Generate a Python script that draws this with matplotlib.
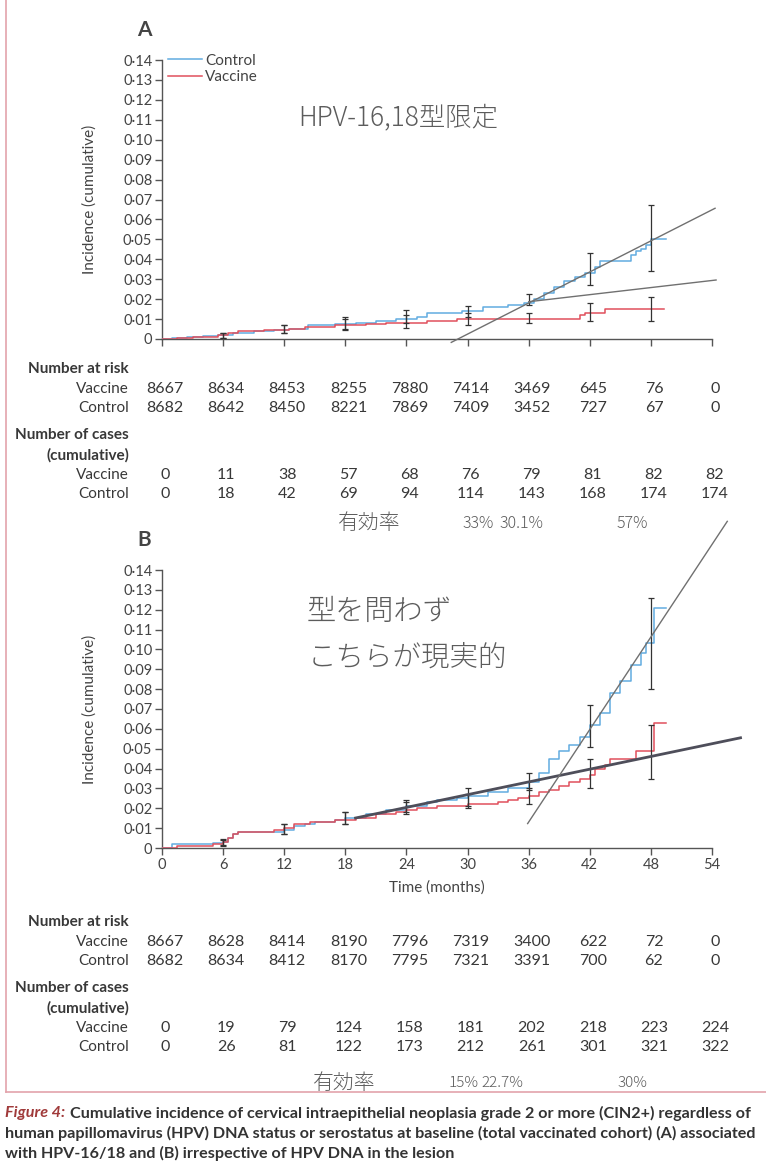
import matplotlib
matplotlib.use('Agg')
import matplotlib.pyplot as plt
import matplotlib.transforms as mtransforms
from matplotlib.lines import Line2D

# ── 字体 ──
SANS = ['Lato', 'Roboto', 'DejaVu Sans']
HAND = ['Noto Sans CJK JP', 'DejaVu Sans']
plt.rcParams['font.family'] = SANS

# ── 数据 ──
months = [0, 6, 12, 18, 24, 30, 36, 42, 48, 54]
ytick_vals = [0, 0.01, 0.02, 0.03, 0.04, 0.05, 0.06, 0.07, 0.08, 0.09, 0.10, 0.11, 0.12, 0.13, 0.14]
ytick_lbls = ['0', '0·01', '0·02', '0·03', '0·04', '0·05', '0·06', '0·07', '0·08', '0·09',
              '0·10', '0·11', '0·12', '0·13', '0·14']

# panel A
a_ctl_t = [0, 1, 2.5, 4, 5.5, 7, 9, 11, 12.5, 14.3, 17, 19, 21, 23, 25, 26, 29.5, 31.5, 34, 35.5,
           36.5, 37.5, 38.5, 39.5, 40.5, 41.5, 42.5, 43, 46, 46.5, 47, 47.5, 48, 49.5]
a_ctl_v = [0, 0.0005, 0.001, 0.0015, 0.002, 0.003, 0.004, 0.0045, 0.005, 0.007, 0.0075, 0.008, 0.009,
           0.010, 0.011, 0.013, 0.014, 0.016, 0.017, 0.018, 0.020, 0.023, 0.026, 0.029, 0.031, 0.033,
           0.036, 0.039, 0.042, 0.044, 0.045, 0.047, 0.050, 0.050]
a_vac_t = [0, 1.5, 3, 5.5, 6.5, 7.5, 10, 12.5, 14, 17, 20, 22, 26, 29, 41, 41.5, 43.5, 49.3]
a_vac_v = [0, 0.0005, 0.001, 0.002, 0.003, 0.004, 0.0045, 0.005, 0.006, 0.007, 0.0075, 0.008,
           0.009, 0.010, 0.012, 0.013, 0.015, 0.015]
err_t = [6, 12, 18, 24, 30, 36, 42, 48]
a_ctl_lo = [0.0005, 0.003, 0.005, 0.008, 0.011, 0.017, 0.027, 0.034]
a_ctl_hi = [0.003, 0.007, 0.011, 0.0146, 0.0166, 0.0224, 0.043, 0.067]
a_vac_lo = [0.0005, 0.003, 0.0045, 0.0054, 0.007, 0.008, 0.009, 0.009]
a_vac_hi = [0.003, 0.007, 0.010, 0.012, 0.013, 0.013, 0.018, 0.021]
a_line1_x, a_line1_y = [28.4, 54.3], [-0.0017, 0.0656]
a_line2_x, a_line2_y = [36, 54.4], [0.0187, 0.0296]

# panel B
b_ctl_t = [0, 1, 5, 6, 6.5, 7, 7.5, 12, 13, 14, 15, 17, 18, 20, 22, 24, 26, 27, 29, 30, 32, 34, 36,
           37, 38, 39, 40, 41, 42, 43, 44, 45, 46, 47, 47.5, 48.3, 49.5]
b_ctl_v = [0, 0.002, 0.0025, 0.003, 0.005, 0.007, 0.008, 0.009, 0.011, 0.012, 0.013, 0.014, 0.015,
           0.017, 0.019, 0.021, 0.023, 0.024, 0.025, 0.026, 0.028, 0.030, 0.033, 0.038, 0.045, 0.049,
           0.052, 0.056, 0.062, 0.068, 0.078, 0.084, 0.092, 0.098, 0.103, 0.121, 0.121]
b_vac_t = [0, 1.5, 5, 6, 6.5, 7, 7.5, 11, 12, 13, 14.5, 17, 19, 21, 23, 24, 25, 27, 30, 33, 34, 35,
           36, 37, 38, 39, 40, 41, 42, 42.5, 43.5, 44, 46.5, 48.3, 49.5]
b_vac_v = [0, 0.001, 0.002, 0.003, 0.005, 0.007, 0.008, 0.009, 0.010, 0.012, 0.013, 0.014, 0.015,
           0.017, 0.018, 0.019, 0.020, 0.021, 0.022, 0.023, 0.024, 0.025, 0.026, 0.028, 0.029, 0.031,
           0.033, 0.035, 0.037, 0.040, 0.042, 0.045, 0.049, 0.063, 0.063]
b_ctl_lo = [0.0015, 0.007, 0.012, 0.018, 0.021, 0.029, 0.051, 0.080]
b_ctl_hi = [0.0045, 0.012, 0.018, 0.024, 0.030, 0.038, 0.072, 0.126]
b_vac_lo = [0.001, 0.007, 0.012, 0.017, 0.020, 0.022, 0.030, 0.035]
b_vac_hi = [0.004, 0.012, 0.018, 0.023, 0.027, 0.030, 0.045, 0.062]
b_line1_x, b_line1_y = [19, 56.8], [0.0151, 0.0555]
b_line2_x, b_line2_y = [35.9, 55.5], [0.0123, 0.1645]

# 表格
a_risk_vac = [8667, 8634, 8453, 8255, 7880, 7414, 3469, 645, 76, 0]
a_risk_ctl = [8682, 8642, 8450, 8221, 7869, 7409, 3452, 727, 67, 0]
a_case_vac = [0, 11, 38, 57, 68, 76, 79, 81, 82, 82]
a_case_ctl = [0, 18, 42, 69, 94, 114, 143, 168, 174, 174]
b_risk_vac = [8667, 8628, 8414, 8190, 7796, 7319, 3400, 622, 72, 0]
b_risk_ctl = [8682, 8634, 8412, 8170, 7795, 7321, 3391, 700, 62, 0]
b_case_vac = [0, 19, 79, 124, 158, 181, 202, 218, 223, 224]
b_case_ctl = [0, 26, 81, 122, 173, 212, 261, 301, 321, 322]

a_eff = ['有効率', '33%', '30.1%', '57%']
b_eff = ['有効率', '15%', '22.7%', '30%']

caption = ['Cumulative incidence of cervical intraepithelial neoplasia grade 2 or more (CIN2+) regardless of',
           'human papillomavirus (HPV) DNA status or serostatus at baseline (total vaccinated cohort) (A) associated',
           'with HPV-16/18 and (B) irrespective of HPV DNA in the lesion']

BLUE = '#62ace0'
RED = '#e0505c'
HANDC = '#5c5c5c'
TXT = '#383838'

W, H = 766, 1175
fig = plt.figure(figsize=(W / 100, H / 100), dpi=100)
fx = lambda px: px / W
fy = lambda py: 1 - py / H


def make_ax(top_px, bot_px):
    ax = fig.add_axes([fx(162), fy(bot_px), fx(712) - fx(162), fy(top_px) - fy(bot_px)])
    ax.set_xlim(0, 54)
    ax.set_ylim(0, 0.14)
    for s in ['top', 'right']:
        ax.spines[s].set_visible(False)
    for s in ['left', 'bottom']:
        ax.spines[s].set_color('#555555')
        ax.spines[s].set_linewidth(1.0)
    ax.set_xticks(months)
    ax.set_yticks(ytick_vals)
    ax.set_yticklabels(ytick_lbls)
    ax.tick_params(direction='out', length=5, width=1, color='#555555',
                   labelsize=10.5, labelcolor='#444444', pad=2)
    ax.set_ylabel('Incidence (cumulative)', fontsize=11, color='#444444')
    ax.yaxis.set_label_coords(-0.118, 0.5)
    ax.patch.set_alpha(0)
    return ax


def draw_panel(ax, ct, cv, vt, vv, clo, chi, vlo, vhi):
    ax.step(ct, cv, where='post', color=BLUE, lw=1.1, label='Control', zorder=3)
    ax.step(vt, vv, where='post', color=RED, lw=1.1, label='Vaccine', zorder=3)
    for lo, hi in [(clo, chi), (vlo, vhi)]:
        mid = [(a + b) / 2 for a, b in zip(lo, hi)]
        ax.errorbar(err_t, mid, yerr=[[m - a for m, a in zip(mid, lo)], [b - m for m, b in zip(mid, hi)]],
                    fmt='none', ecolor='#333333', elinewidth=0.9, capsize=2.3, capthick=0.9, zorder=4)


def table(ax, top_px, rows):
    tr = mtransforms.blended_transform_factory(ax.transData, fig.transFigure)
    offs = [0, 20, 39, 66, 86, 106, 125]
    heads = [('Number at risk', True), ('Vaccine', False), ('Control', False),
             ('Number of cases', True), ('(cumulative)', True), ('Vaccine', False), ('Control', False)]
    for (txt, bold), o in zip(heads, offs):
        fig.text(fx(129), fy(top_px + o), txt, ha='right', va='center', fontsize=11,
                 fontweight='bold' if bold else 'normal', color=TXT)
    for vals, o in zip(rows, [20, 39, 106, 125]):
        for m, v in zip(months, vals):
            ax.text(m + 0.3, fy(top_px + o), str(v), transform=tr, ha='center', va='center',
                    fontsize=11.5, color=TXT)


# ── Panel A ──
axA = make_ax(60, 339)
draw_panel(axA, a_ctl_t, a_ctl_v, a_vac_t, a_vac_v, a_ctl_lo, a_ctl_hi, a_vac_lo, a_vac_hi)
axA.set_xticklabels([])
axA.plot(a_line1_x, a_line1_y, color='#707070', lw=1, clip_on=False, zorder=5)
axA.plot(a_line2_x, a_line2_y, color='#707070', lw=1, clip_on=False, zorder=5)
axA.legend(loc='upper left', bbox_to_anchor=(0.0, 1.045), frameon=False, fontsize=11,
           handlelength=2.2, handletextpad=0.2, labelspacing=0.15, borderaxespad=0,
           labelcolor='#444444')
fig.text(fx(144), fy(30), 'A', ha='center', va='center', fontsize=15, fontweight='bold', color='#444444')
table(axA, 369, [a_risk_vac, a_risk_ctl, a_case_vac, a_case_ctl])

# ── Panel B ──
axB = make_ax(570, 848)
draw_panel(axB, b_ctl_t, b_ctl_v, b_vac_t, b_vac_v, b_ctl_lo, b_ctl_hi, b_vac_lo, b_vac_hi)
axB.set_xticklabels([str(m) for m in months])
axB.set_xlabel('Time (months)', fontsize=11, color='#444444', labelpad=6)
axB.plot(b_line1_x, b_line1_y, color='#4e4e5a', lw=2, clip_on=False, zorder=5)
axB.plot(b_line2_x, b_line2_y, color='#707070', lw=1, clip_on=False, zorder=5)
fig.text(fx(144), fy(540), 'B', ha='center', va='center', fontsize=15, fontweight='bold', color='#444444')
table(axB, 922, [b_risk_vac, b_risk_ctl, b_case_vac, b_case_ctl])

# ── 手写批注 ──
fig.text(fx(298), fy(117), 'HPV-16,18型限定', ha='left', va='center', fontsize=19,
         family=HAND, color=HANDC, fontweight='light')
fig.text(fx(307), fy(612), '型を問わず', ha='left', va='center', fontsize=21,
         family=HAND, color=HANDC, fontweight='light')
fig.text(fx(308), fy(657), 'こちらが現実的', ha='left', va='center', fontsize=20.5,
         family=HAND, color=HANDC, fontweight='light')
for txt, px in zip(a_eff, [338, 462, 499, 617]):
    fig.text(fx(px), fy(523), txt, ha='left', va='center', fontsize=15 if txt == '有効率' else 11.5,
             family=HAND, color=HANDC, fontweight='light')
for txt, px in zip(b_eff, [313, 449, 481, 617]):
    fig.text(fx(px), fy(1083), txt, ha='left', va='center', fontsize=15 if txt == '有効率' else 11,
             family=HAND, color=HANDC, fontweight='light')

# ── 边框 ──
fig.add_artist(Line2D([fx(6), fx(6)], [fy(0), fy(1092)], color='#e3a3ab', lw=1.2))
fig.add_artist(Line2D([fx(6), fx(766)], [fy(1092), fy(1092)], color='#e3a3ab', lw=1.2))

# ── 图注（按宽度缩放字号） ──
r = fig.canvas.get_renderer()
probe = fig.text(0, 0, caption[1], fontsize=10, fontweight='bold')
w10 = probe.get_window_extent(renderer=r).width
probe.remove()
cap_fs = 10 * 752 / w10
t0 = fig.text(fx(5), fy(1113), 'Figure 4:', ha='left', va='center', fontsize=cap_fs,
              fontweight='bold', style='italic', color='#a03a3a')
bb = t0.get_window_extent(renderer=r)
fig.text((bb.x1 + 5) / W, fy(1113), caption[0], ha='left', va='center', fontsize=cap_fs,
         fontweight='bold', color='#333333')
fig.text(fx(5), fy(1133), caption[1], ha='left', va='center', fontsize=cap_fs,
         fontweight='bold', color='#333333')
fig.text(fx(5), fy(1153), caption[2], ha='left', va='center', fontsize=cap_fs,
         fontweight='bold', color='#333333')

fig.savefig('out.png', dpi=100, facecolor='white')
